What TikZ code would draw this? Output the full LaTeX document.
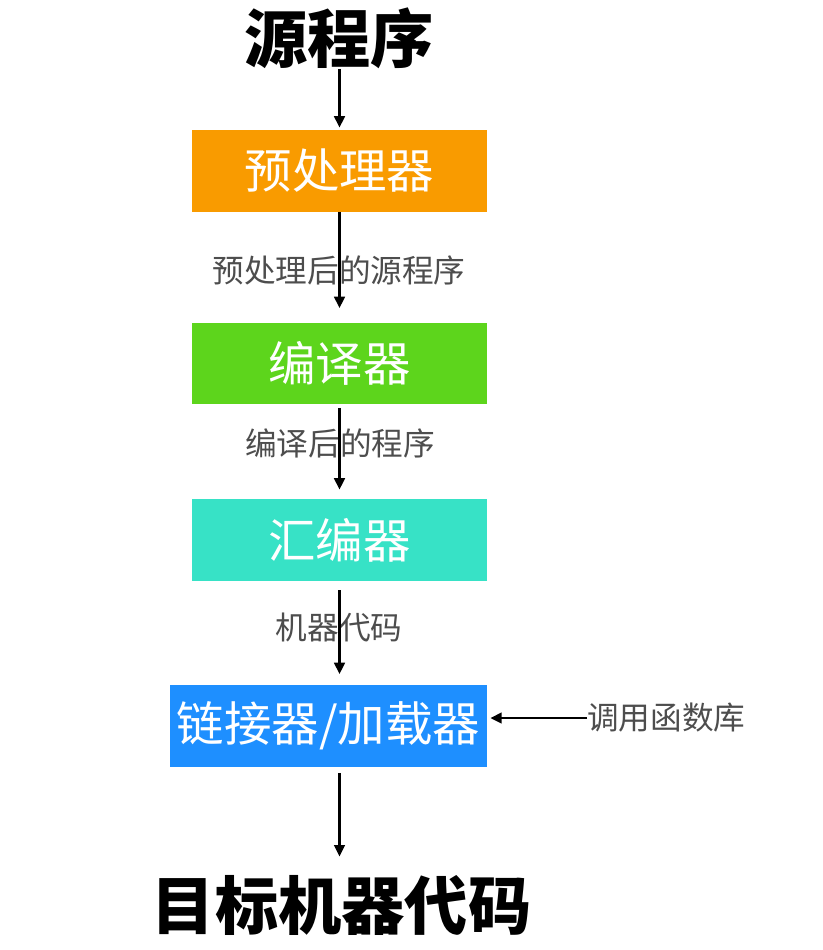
\documentclass[tikz,border=0pt]{standalone}
\usepackage{fontspec}
\newfontfamily\cjk{Noto Sans CJK SC}
\usetikzlibrary{arrows.meta}
\definecolor{preC}{HTML}{F99B00}
\definecolor{cmpC}{HTML}{5DD51C}
\definecolor{asmC}{HTML}{37E2C6}
\definecolor{lnkC}{HTML}{1E8FFF}
\definecolor{lblC}{HTML}{4D4D4D}

\begin{document}
\begin{tikzpicture}[
  x = 0.02cm, y = -0.02cm,
  every node/.style = {font=\cjk},
  title/.style  = {inner sep=0pt, font=\cjk\bfseries\fontsize{36}{40}\selectfont},
  stage/.style  = {rectangle, inner sep=0pt, minimum width=5.9cm,
                   minimum height=1.64cm, text=white,
                   font=\cjk\fontsize{27}{32}\selectfont},
  lbl/.style    = {inner sep=0pt, text=lblC, font=\cjk\fontsize{18}{22}\selectfont},
  arr/.style    = {-{Triangle[length=6.5pt,width=6pt]}, line width=1.4pt},
]
\useasboundingbox (0,0) rectangle (822,950);
\node[title]                 (src) at (339,38)    {源程序};
\node[stage, fill=preC]      (pre) at (339.5,171) {预处理器};
\node[stage, fill=cmpC]      (cmp) at (339.5,363.5) {编译器};
\node[stage, fill=asmC]      (asm) at (339.5,540) {汇编器};
\node[stage, fill=lnkC, minimum width=6.34cm] (lnk) at (328.5,725.5) {链接器/加载器};
\node[title]                 (obj) at (341.5,905) {目标机器代码};
% labels below the arrows
\node[lbl]                   (l1)  at (339,270)   {预处理后的源程序};
\node[lbl]                   (l2)  at (340,443)   {编译后的程序};
\node[lbl]                   (l3)  at (339,628)   {机器代码};
\node[lbl, anchor=west]      (lib) at (587,718)   {调用函数库};
\draw[arr, shorten >=0.04cm] (src.south -| pre.north) -- (pre.north);
\draw[arr, shorten >=0.28cm] (pre.south) -- (cmp.north);
\draw[arr, shorten <=0.06cm, shorten >=0.18cm] (cmp.south) -- (asm.north);
\draw[arr, shorten <=0.18cm, shorten >=0.2cm] (asm.south) -- (asm.south |- lnk.north);
\draw[arr, shorten <=0.12cm, shorten >=0.36cm] (asm.south |- lnk.south) -- (asm.south |- obj.north);
\draw[arr, shorten >=0.06cm] (lib.west) -- (lib.west -| lnk.east);
\end{tikzpicture}
\end{document}
